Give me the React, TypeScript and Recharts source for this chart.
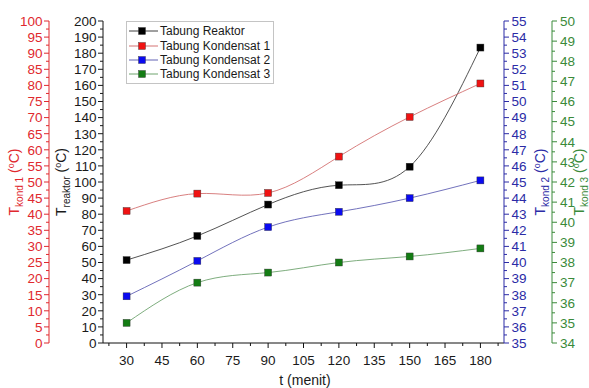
import React from 'react'
import { LineChart, Line, XAxis, YAxis } from 'recharts'

const FONT = '"Liberation Sans", Arial, sans-serif'

// time (menit) and temperatures (°C)
const minutes = [30, 60, 90, 120, 150, 180]
const reaktor = [51.5, 66.5, 86, 98, 109.5, 183.5]
const kondensat1 = [41, 46.4, 46.6, 57.9, 70.2, 80.6]
const kondensat2 = [37.9, 40.1, 42.2, 43.15, 44.0, 45.1]
const kondensat3 = [35.0, 37.0, 37.5, 38.0, 38.3, 38.7]

// axis ids are ordered so that the inner axis on each side sorts first
const series = [
  { key: 'reaktor', name: 'Tabung Reaktor', axis: 'a_reaktor', fill: '#000000', line: '#404040' },
  { key: 'k1', name: 'Tabung Kondensat 1', axis: 'b_k1', fill: '#f01212', line: '#d47272' },
  { key: 'k2', name: 'Tabung Kondensat 2', axis: 'c_k2', fill: '#0a0af0', line: '#6262b4' },
  { key: 'k3', name: 'Tabung Kondensat 3', axis: 'd_k3', fill: '#137c13', line: '#6fa46f' },
]

const data = minutes.map((t, i) => ({
  t,
  reaktor: reaktor[i],
  k1: kondensat1[i],
  k2: kondensat2[i],
  k3: kondensat3[i],
}))

const steps = (from: number, to: number, step: number) => {
  const out: number[] = []
  for (let v = from; v <= to + 1e-9; v += step) out.push(Math.round(v * 100) / 100)
  return out
}

const xTicks = steps(22.5, 187.5, 7.5)
const reaktorTicks = steps(0, 200, 5)
const k1Ticks = steps(0, 100, 2.5)
const k2Ticks = steps(35, 55, 0.5)
const k3Ticks = steps(34, 50, 0.5)

const isMajor = (v: number, major: number) => Math.abs(v / major - Math.round(v / major)) < 1e-6

function makeYTick(side: 'left' | 'right', color: string, major: number, gap: number) {
  return (props: any) => {
    const { x, y, payload } = props
    const v = payload.value
    const big = isMajor(v, major)
    const len = big ? 5 : 3
    const dir = side === 'left' ? -1 : 1
    return (
      <g>
        <line x1={x} y1={y} x2={x + dir * len} y2={y} stroke={color} strokeWidth={1} />
        {big && (
          <text
            x={x + dir * (5 + gap)}
            y={y}
            dy="0.36em"
            textAnchor={side === 'left' ? 'end' : 'start'}
            fill={color}
            fontSize={13.5}
            fontFamily={FONT}
          >
            {v}
          </text>
        )}
      </g>
    )
  }
}

const XTick = (props: any) => {
  const { x, y, payload } = props
  const v = payload.value
  const big = isMajor(v, 15)
  return (
    <g>
      <line x1={x} y1={y} x2={x} y2={y + (big ? 5 : 3)} stroke="#111" />
      {big && (
        <text x={x} y={y + 12} dy="0.71em" textAnchor="middle" fill="#1a1a1a" fontSize={13.5} fontFamily={FONT}>
          {v}
        </text>
      )}
    </g>
  )
}

const AxisTitle = ({ cx, cy, color, sub }: { cx: number; cy: number; color: string; sub: string }) => (
  <text
    transform={`translate(${cx},${cy}) rotate(-90)`}
    textAnchor="middle"
    fill={color}
    fontSize={14}
    fontFamily={FONT}
  >
    <tspan>T</tspan>
    <tspan fontSize={10} dy={4}>{sub}</tspan>
    <tspan dy={-4}> (</tspan>
    <tspan fontSize={9} dy={-5}>o</tspan>
    <tspan dy={5}>C)</tspan>
  </text>
)

const squareDot = (fill: string) => (props: any) => {
  const { cx, cy, index } = props
  if (cx == null || cy == null) return <g key={index} />
  return <rect key={index} x={cx - 3.5} y={cy - 3.5} width={7} height={7} fill={fill} stroke="#333" strokeWidth={0.4} />
}

export default function App() {
  const midY = 182
  return (
    <div style={{ position: 'absolute', left: 0, top: 0, width: 589, height: 388, background: '#fff' }}>
      <LineChart width={589} height={388} data={data} margin={{ top: 21, right: 0, bottom: 0, left: 0 }}>
        <XAxis
          dataKey="t"
          type="number"
          domain={[20, 190]}
          ticks={xTicks}
          interval={0}
          tickSize={0}
          tickMargin={0}
          tickLine={false}
          axisLine={{ stroke: '#111' }}
          height={45}
          tick={XTick}
          label={() => (
            <text x={305} y={385} textAnchor="middle" fill="#1a1a1a" fontSize={14} fontFamily={FONT}>
              t (menit)
            </text>
          )}
        />
        <YAxis
          yAxisId="a_reaktor"
          orientation="left"
          width={54}
          domain={[0, 200]}
          ticks={reaktorTicks}
          interval={0}
          tickSize={0}
          tickMargin={0}
          tickLine={false}
          axisLine={{ stroke: '#111' }}
          tick={makeYTick('left', '#1a1a1a', 10, 1.5)}
          label={() => <AxisTitle cx={66} cy={midY} color="#1a1a1a" sub="reaktor" />}
        />
        <YAxis
          yAxisId="b_k1"
          orientation="left"
          width={49}
          domain={[0, 100]}
          ticks={k1Ticks}
          interval={0}
          tickSize={0}
          tickMargin={0}
          tickLine={false}
          axisLine={{ stroke: '#e0282e' }}
          tick={makeYTick('left', '#e0282e', 5, 1.5)}
          label={() => <AxisTitle cx={19} cy={midY} color="#e0282e" sub="kond 1" />}
        />
        <YAxis
          yAxisId="c_k2"
          orientation="right"
          width={48}
          domain={[35, 55]}
          ticks={k2Ticks}
          interval={0}
          tickSize={0}
          tickMargin={0}
          tickLine={false}
          axisLine={{ stroke: '#2b2ba6' }}
          tick={makeYTick('right', '#2b2ba6', 1, 2.5)}
          label={() => <AxisTitle cx={545} cy={midY} color="#2b2ba6" sub="kond 2" />}
        />
        <YAxis
          yAxisId="d_k3"
          orientation="right"
          width={37}
          domain={[34, 50]}
          ticks={k3Ticks}
          interval={0}
          tickSize={0}
          tickMargin={0}
          tickLine={false}
          axisLine={{ stroke: '#3a8a3a' }}
          tick={makeYTick('right', '#3a8a3a', 1, 3)}
          label={() => <AxisTitle cx={584} cy={midY} color="#3a8a3a" sub="kond 3" />}
        />
        {series.map(s => (
          <Line
            key={s.key}
            yAxisId={s.axis}
            dataKey={s.key}
            name={s.name}
            type="natural"
            stroke={s.line}
            strokeWidth={0.9}
            dot={squareDot(s.fill)}
            activeDot={false}
            isAnimationActive={false}
          />
        ))}
      </LineChart>
      <div
        style={{
          position: 'absolute',
          left: 126,
          top: 21,
          width: 148,
          height: 63,
          border: '1px solid #c4c4c4',
          background: '#fff',
          boxSizing: 'border-box',
          padding: '2px 0 0 2px',
          fontFamily: FONT,
          fontSize: 12,
          color: '#1a1a1a',
        }}
      >
        {series.map(s => (
          <div key={s.key} style={{ display: 'flex', alignItems: 'center', height: 14.4 }}>
            <svg width={29} height={10} style={{ display: 'block' }}>
              <line x1={0} y1={5} x2={29} y2={5} stroke={s.line} strokeWidth={1} />
              <rect x={9.5} y={1.5} width={7} height={7} fill={s.fill} stroke="#333" strokeWidth={0.4} />
            </svg>
            <span style={{ marginLeft: 2, whiteSpace: 'nowrap', lineHeight: '14px' }}>{s.name}</span>
          </div>
        ))}
      </div>
    </div>
  )
}
